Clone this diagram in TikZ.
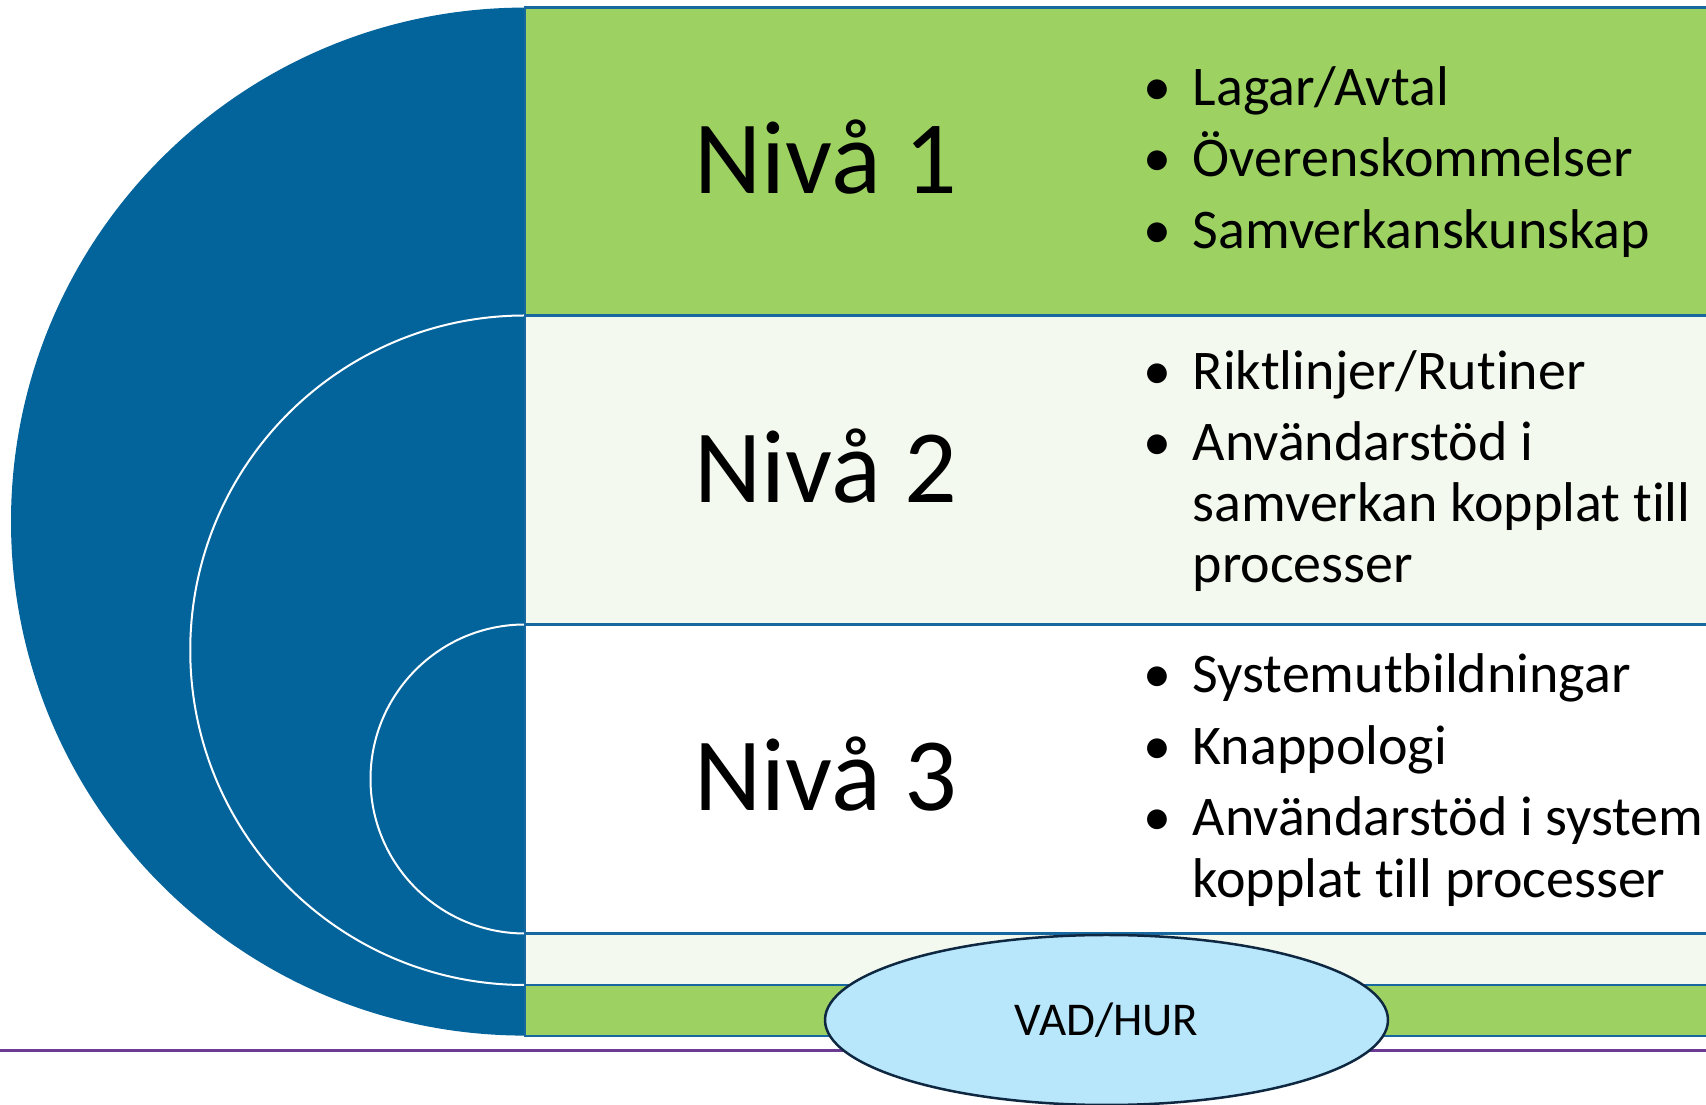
\documentclass[tikz,border=0pt]{standalone}
\usepackage{fontspec}
\setmainfont{Carlito}[Ligatures=NoCommon]
\usetikzlibrary{shapes.geometric}
\definecolor{discblue}{RGB}{3,99,155}
\definecolor{lineblue}{RGB}{24,104,160}
\definecolor{lvgreen}{RGB}{157,210,99}
\definecolor{lvpale}{RGB}{243,249,238}
\definecolor{ovalfill}{RGB}{184,231,251}
\definecolor{ovalline}{RGB}{14,40,65}
\definecolor{rulepurple}{RGB}{108,60,148}
\tikzset{
  rowbox/.style={draw=lineblue, line width=2.2pt},
  arcline/.style={draw=white, line width=2pt},
  bul/.style={anchor=base, inner sep=0pt, font=\fontsize{56}{61}\selectfont},
  itemtxt/.style={anchor=base west, inner sep=0pt, font=\fontsize{56}{61}\selectfont},
  levellabel/.style={anchor=base, inner sep=0pt, font=\fontsize{104}{120}\selectfont},
}
\begin{document}
\begin{tikzpicture}[x=1pt,y=1pt]
\useasboundingbox (0,0) rectangle (1706,1105);
\clip (0,0) rectangle (1706,1105);
% half disc
\fill[discblue] (525,1097.4) arc[start angle=90,end angle=270,radius=514] -- cycle;
\draw[arcline] (525,789.5) arc[start angle=90,end angle=270,radius=334.75];
\draw[arcline] (525,480.5) arc[start angle=90,end angle=270,radius=154.5];
% rows
\filldraw[rowbox, fill=lvgreen] (525,789.5) rectangle (1712,1097.4);
\filldraw[rowbox, fill=lvpale] (525,480.5) rectangle (1712,789.5);
\filldraw[rowbox, fill=white] (525,171.5) rectangle (1712,480.5);
\filldraw[rowbox, fill=lvpale] (525,120) rectangle (1712,171.5);
\filldraw[rowbox, fill=lvgreen] (525,69) rectangle (1712,120);
% purple rule
\draw[rulepurple, line width=3pt] (0,54) -- (1706,54);
% level labels
\node[levellabel] (n1) at (826,911.4) {Nivå 1};
\node[levellabel] (n2) at (826,602.4) {Nivå 2};
\node[levellabel] (n3) at (826,294.5) {Nivå 3};
% level 1 items
\node[bul] (b11) at (1157,999.5) {•};
\node[itemtxt] (t11) at (1192.5,999.5) {Lagar/Avtal};
\node[bul] (b12) at (1157,928) {•};
\node[itemtxt] (t12) at (1192.5,928) {Överenskommelser};
\node[bul] (b13) at (1157,856) {•};
\node[itemtxt] (t13) at (1192.5,856) {Samverkanskunskap};
% level 2 items
\node[bul] (b21) at (1157,715.5) {•};
\node[itemtxt] (t21) at (1192.5,715.5) {Riktlinjer/Rutiner};
\node[bul] (b22) at (1157,644) {•};
\node[itemtxt] (t22) at (1192.5,644) {Användarstöd i};
\node[itemtxt] (t22b) at (1192.5,583) {samverkan kopplat till};
\node[itemtxt] (t22c) at (1192.5,522) {processer};
% level 3 items
\node[bul] (b31) at (1157,412) {•};
\node[itemtxt] (t31) at (1192.5,412) {Systemutbildningar};
\node[bul] (b32) at (1157,340) {•};
\node[itemtxt] (t32) at (1192.5,340) {Knappologi};
\node[bul] (b33) at (1157,269.4) {•};
\node[itemtxt] (t33) at (1192.5,269.4) {Användarstöd i system};
\node[itemtxt] (t33b) at (1192.5,207.4) {kopplat till processer};
% oval
\node[ellipse, draw=ovalline, line width=2.5pt, fill=ovalfill, minimum width=563pt, minimum height=170pt, inner sep=0pt, font=\fontsize{47}{56}\selectfont] (vad) at (1106.5,85) {VAD/HUR};
\end{tikzpicture}
\end{document}
